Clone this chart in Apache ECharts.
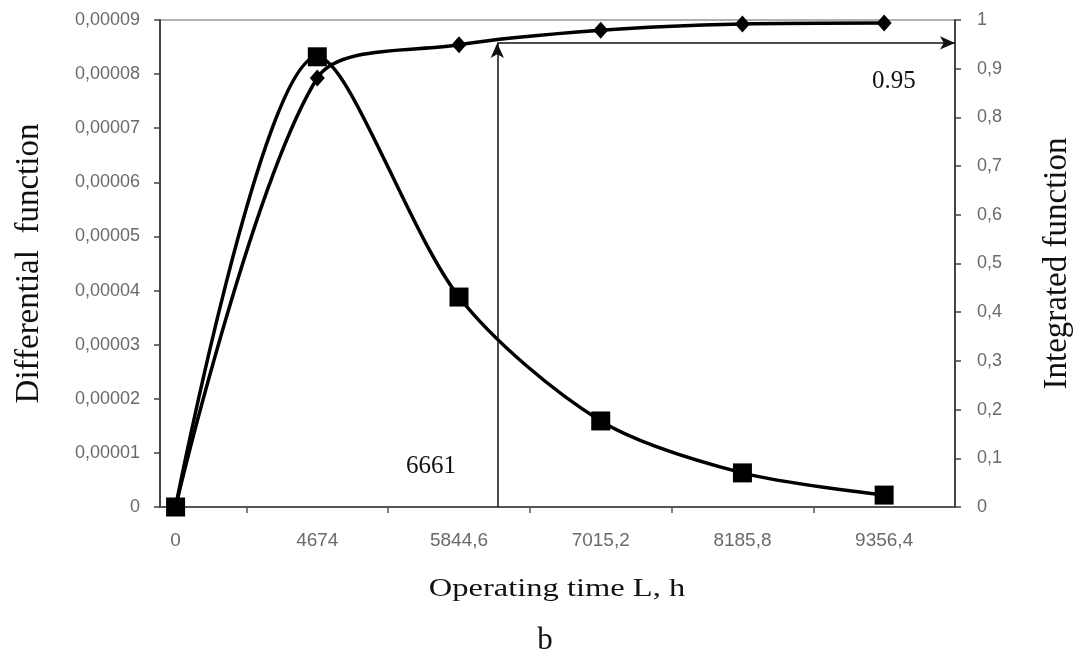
<!DOCTYPE html>
<html>
<head>
<meta charset="utf-8">
<script src="https://cdn.jsdelivr.net/npm/echarts@6/dist/echarts.min.js"></script>
<style>
  html, body { margin: 0; padding: 0; background: #fff; }
  #chart { width: 1074px; height: 658px; }
</style>
</head>
<body>
<div id="chart"></div>
<script>
// x labels (operating time, h) - drawn at category positions 0..5
var timeLabels = ['0', '4674', '5844,6', '7015,2', '8185,8', '9356,4'];
var xPos = [0, 1, 2, 3, 4, 5];
// differential function (left axis)
var diffValues = [0, 0.0000832, 0.0000388, 0.0000159, 0.0000063, 0.0000022];
// integrated function (right axis)
var integValues = [0, 0.881, 0.949, 0.979, 0.992, 0.994];
// reading of the 0.95 level -> 6661 h, as placed in the picture
var cutX = 2.27;
var cutP = 0.953;

function pairs(xs, ys) {
  var out = [];
  for (var i = 0; i < xs.length; i++) out.push([xs[i], ys[i]]);
  return out;
}

var chart = echarts.init(document.getElementById('chart'));
var serif = '"Liberation Serif", "DejaVu Serif", serif';
var sans = '"Liberation Sans", Arial, sans-serif';

chart.setOption({
  animation: false,
  grid: {
    left: 160, right: 119, top: 20, bottom: 151,
    outerBoundsMode: 'none',
    containLabel: false,
    show: true, borderColor: '#999', borderWidth: 1.5
  },
  xAxis: {
    type: 'value',
    min: -0.11, max: 5.5,
    axisLine: { show: true, onZero: false, lineStyle: { color: '#555', width: 2 } },
    axisTick: { show: true, length: 6, customValues: [0.5, 1.5, 2.5, 3.5, 4.5], lineStyle: { color: '#555', width: 1.5 } },
    axisLabel: {
      customValues: xPos,
      margin: 24,
      fontFamily: sans, fontSize: 19, color: '#6a6a6a',
      formatter: function (v) { return timeLabels[Math.round(v)]; }
    },
    splitLine: { show: false }
  },
  yAxis: [{
    type: 'value',
    min: 0, max: 0.00009, interval: 0.00001,
    position: 'left',
    name: 'Differential  function',
    nameLocation: 'middle',
    nameRotate: 90,
    nameGap: 114,
    nameTextStyle: { fontFamily: serif, fontSize: 33, color: '#111' },
    axisLine: { show: true, onZero: false, lineStyle: { color: '#444', width: 2 } },
    axisTick: { show: true, length: 6, lineStyle: { color: '#444', width: 1.5 } },
    axisLabel: {
      margin: 20, fontFamily: sans, fontSize: 18, color: '#6a6a6a',
      formatter: function (v) { return v === 0 ? '0' : v.toFixed(5).replace('.', ','); }
    },
    splitLine: { show: false }
  }, {
    type: 'value',
    min: 0, max: 1, interval: 0.1,
    position: 'right',
    name: 'Integrated function',
    nameLocation: 'middle',
    nameRotate: 90,
    nameGap: 86,
    nameTextStyle: { fontFamily: serif, fontSize: 33, color: '#111' },
    axisLine: { show: true, onZero: false, lineStyle: { color: '#444', width: 2 } },
    axisTick: { show: true, length: 6, lineStyle: { color: '#444', width: 1.5 } },
    axisLabel: {
      margin: 22, fontFamily: sans, fontSize: 18, color: '#6a6a6a',
      formatter: function (v) {
        if (v === 0) return '0';
        if (Math.abs(v - 1) < 1e-9) return '1';
        return v.toFixed(1).replace('.', ',');
      }
    },
    splitLine: { show: false }
  }],
  graphic: [
    { type: 'text', x: 557, y: 589, scaleX: 1.3,
      style: { text: 'Operating time L, h', font: '25px ' + serif, fill: '#111', textAlign: 'center', textVerticalAlign: 'middle' } },
    { type: 'text', x: 545, y: 641,
      style: { text: 'b', font: '31px ' + serif, fill: '#111', textAlign: 'center', textVerticalAlign: 'middle' } },
    { type: 'text', x: 406, y: 466,
      style: { text: '6661', font: '25px ' + serif, fill: '#111', textAlign: 'left', textVerticalAlign: 'middle' } },
    { type: 'text', x: 872, y: 81,
      style: { text: '0.95', font: '25px ' + serif, fill: '#111', textAlign: 'left', textVerticalAlign: 'middle' } }
  ],
  series: [{
    name: 'Differential function',
    type: 'line',
    yAxisIndex: 0,
    data: pairs(xPos, diffValues),
    smooth: 0.3,
    symbol: 'rect',
    symbolSize: 19,
    lineStyle: { color: '#000', width: 3.5 },
    itemStyle: { color: '#000' },
    z: 3
  }, {
    name: 'Integrated function',
    type: 'line',
    yAxisIndex: 1,
    data: pairs(xPos, integValues),
    smooth: 0.3,
    symbol: 'diamond',
    symbolSize: [15, 17],
    lineStyle: { color: '#000', width: 3.5 },
    itemStyle: { color: '#000' },
    z: 3,
    markLine: {
      silent: true,
      symbol: ['none', 'arrow'],
      symbolSize: [10, 15],
      label: { show: false },
      lineStyle: { color: '#111', width: 1.5, type: 'solid' },
      data: [
        [{ coord: [cutX, 0] }, { coord: [cutX, cutP] }],
        [{ coord: [cutX, cutP] }, { coord: [5.5, cutP] }]
      ]
    }
  }]
});
</script>
</body>
</html>
